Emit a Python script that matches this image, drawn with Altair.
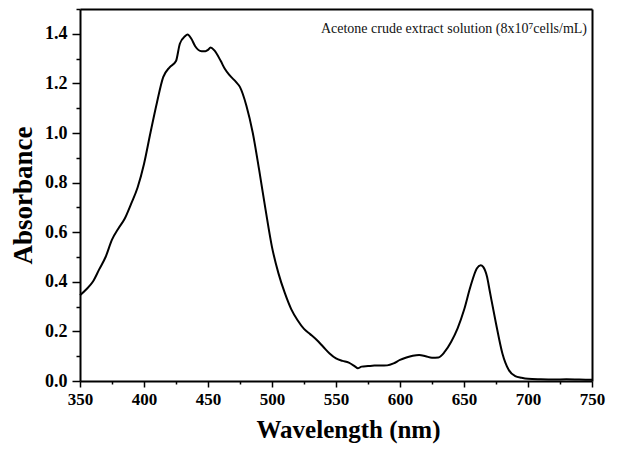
import altair as alt
import pandas as pd

wavelength = [350, 355, 360, 365, 370, 375, 380, 385, 390, 395, 400, 405, 410, 415, 420, 425,
              428, 432, 434, 437, 440, 445, 448, 450, 452, 455, 460, 463, 467, 472, 475, 480,
              485, 490, 495, 500, 505, 510, 515, 520, 525, 530, 535, 540, 545, 550, 555, 560,
              565, 567, 570, 575, 580, 585, 590, 595, 600, 605, 610, 615, 620, 625, 630, 635,
              640, 645, 650, 655, 660, 663, 665, 668, 670, 675, 680, 685, 690, 695, 700, 710,
              720, 730, 740, 750]
absorbance = [0.346, 0.37, 0.40, 0.45, 0.50, 0.57, 0.615, 0.655, 0.715, 0.78, 0.875, 1.0, 1.12,
              1.225, 1.265, 1.29, 1.36, 1.39, 1.397, 1.38, 1.35, 1.33, 1.33, 1.335, 1.345, 1.333,
              1.29, 1.26, 1.232, 1.205, 1.185, 1.11, 1.0, 0.85, 0.69, 0.54, 0.435, 0.355, 0.29,
              0.245, 0.21, 0.188, 0.165, 0.138, 0.111, 0.091, 0.081, 0.074, 0.058, 0.051, 0.058,
              0.060, 0.062, 0.062, 0.063, 0.071, 0.085, 0.095, 0.102, 0.105, 0.10, 0.094, 0.095,
              0.118, 0.158, 0.212, 0.286, 0.38, 0.454, 0.467, 0.46, 0.42, 0.366, 0.232, 0.111,
              0.044, 0.02, 0.013, 0.009, 0.007, 0.006, 0.007, 0.006, 0.005]

x_ticks = [350 + 25 * i for i in range(17)]
y_ticks = [round(0.1 * i, 1) for i in range(16)]
x_domain = [350, 750]
y_domain = [0, 1.5]
annotation = "Acetone crude extract solution (8x10\u2077cells/mL)"

df = pd.DataFrame({"wavelength": wavelength, "absorbance": absorbance})

FONT = "Liberation Serif"
W, H = 512, 372

x_axis = alt.Axis(
    orient="bottom",
    title="Wavelength (nm)", values=x_ticks,
    labelExpr="datum.value % 50 === 0 ? datum.label : ''",
    tickSize={"condition": {"test": "datum.value % 50 === 0", "value": 6}, "value": 3},
    labelOverlap=False, labelFlush=False, grid=False,
    labelFont=FONT, labelFontWeight="bold", labelFontSize=17, labelColor="black",
    labelPadding=4,
    titleFont=FONT, titleFontWeight="bold", titleFontSize=25, titleColor="black",
    titleX=268, titleY=56, titleBaseline="alphabetic",
    domainColor="black", domainWidth=2, tickColor="black", tickWidth=1.5,
)
y_axis = alt.Axis(
    orient="left",
    title="Absorbance", values=y_ticks,
    labelExpr="abs(datum.value * 5 - round(datum.value * 5)) < 1e-6 ? format(datum.value, '.1f') : ''",
    tickSize={"condition": {"test": "abs(datum.value * 5 - round(datum.value * 5)) < 1e-6", "value": 8}, "value": 4},
    labelOverlap=False, labelFlush=False, grid=False,
    labelFont=FONT, labelFontWeight="bold", labelFontSize=18, labelColor="black",
    labelPadding=5,
    titleFont=FONT, titleFontWeight="bold", titleFontSize=27, titleColor="black",
    titleX=-57, titleY=186, titleBaseline="middle",
    domainColor="black", domainWidth=2, tickColor="black", tickWidth=1.5,
)
frame_x = alt.Axis(orient="top", labels=False, ticks=False, title=None, grid=False,
                   domainColor="black", domainWidth=2)
frame_y = alt.Axis(orient="right", labels=False, ticks=False, title=None, grid=False,
                   domainColor="black", domainWidth=2)

xs = alt.Scale(domain=x_domain, nice=False, zero=False)
ys = alt.Scale(domain=y_domain, nice=False)

line = alt.Chart(df).mark_line(color="black", strokeWidth=2, interpolate="monotone").encode(
    x=alt.X("wavelength:Q", scale=xs, axis=x_axis),
    y=alt.Y("absorbance:Q", scale=ys, axis=y_axis),
)

frame = alt.Chart(df).mark_line(opacity=0).encode(
    x=alt.X("wavelength:Q", scale=xs, axis=frame_x),
    y=alt.Y("absorbance:Q", scale=ys, axis=frame_y),
)

text = alt.Chart(pd.DataFrame({"t": [annotation]})).mark_text(
    align="right", baseline="middle", font=FONT, fontSize=14, color="#111"
).encode(x=alt.value(507), y=alt.value(20), text="t:N")

chart = (line + frame + text).resolve_axis(x="independent", y="independent").properties(
    width=W, height=H,
    autosize=alt.AutoSizeParams(type="none"),
    padding={"left": 72, "top": 1, "right": 15, "bottom": 63},
    background="white",
).configure_view(stroke=None)

chart.save("out.html", embed_options={"renderer": "svg", "actions": False})
